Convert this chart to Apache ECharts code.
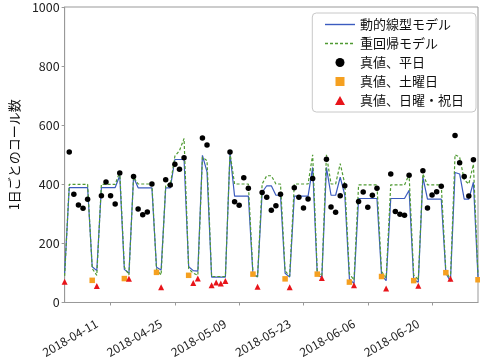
<!DOCTYPE html>
<html>
<head>
<meta charset="utf-8">
<script src="https://cdn.jsdelivr.net/npm/echarts@6/dist/echarts.min.js"></script>
<style>
html,body{margin:0;padding:0;background:#fff;}
#chart{width:480px;height:360px;}
</style>
</head>
<body>
<div id="chart"></div>
<script>
// ---- data ----
var startDate = '2018-04-01';
var dayCount = 91;
var holidays = ['2018-04-29','2018-04-30','2018-05-03','2018-05-04','2018-05-05'];
var xTickLabels = ['2018-04-11','2018-04-25','2018-05-09','2018-05-23','2018-06-06','2018-06-20'];
var yTicks = [0, 200, 400, 600, 800, 1000];

var dlmValues = [100, 389,389,389,389,389, 121,108, 389,389,389,389,430, 112,99, 425,388,388,388,388, 119,110, 388,388,484,484,484, 121,108,106, 498,442, 86,86,86,86, 506,360,360,360,360, 95,86, 373,395,395,363,363, 99,86, 360,360,360,360,457, 93,85, 457,363,363,424,363, 80,64, 352,352,352,352,352, 93,74, 352,352,352,352,380, 77,69, 424,350,350,350,350, 99,72, 440,435,350,350,407, 85];
var regValues = [90, 400,400,400,400,400, 115,92, 400,400,400,400,442, 120,93, 425,401,401,401,401, 112,93, 398,398,495,514,555, 115,99,92, 492,480, 88,88,88,88, 506,401,401,401,401, 100,88, 401,429,429,401,401, 107,90, 401,401,401,401,500, 105,90, 500,401,401,470,401, 97,76, 398,398,398,398,398, 105,83, 398,398,398,398,433, 93,77, 435,398,398,398,398, 105,80, 500,492,415,401,468, 92];
var actualValues = [70, 509,366,330,319,349, 75,56, 361,408,361,333,438, 81,80, 426,316,297,306,401, 102,52, 415,398,468,451,490, 92,66,81, 557,533, 58,68,64,73, 509,341,329,422,387, 96,53, 372,356,312,327,366, 80,52, 388,356,320,350,420, 96,83, 485,323,305,361,395, 69,58, 342,374,322,363,387, 88,47, 435,308,299,295,431, 74,57, 446,320,364,375,393, 101,80, 565,473,426,360,483, 77];

var seriesNames = ['動的線型モデル','重回帰モデル','真値、平日','真値、土曜日','真値、日曜・祝日'];
var yAxisTitle = '1日ごとのコール数';

// ---- build categories ----
function pad(n){return n<10?'0'+n:''+n;}
var dates = [];
var dows = [];
var t0 = Date.parse(startDate + 'T00:00:00Z');
for (var i = 0; i < dayCount; i++) {
  var d = new Date(t0 + i*86400000);
  dates.push(d.getUTCFullYear()+'-'+pad(d.getUTCMonth()+1)+'-'+pad(d.getUTCDate()));
  dows.push(d.getUTCDay());
}
var weekdayPts = [], saturdayPts = [], holidayPts = [];
for (var j = 0; j < dayCount; j++) {
  var p = [j, actualValues[j]];
  if (dows[j] === 0 || holidays.indexOf(dates[j]) >= 0) holidayPts.push(p);
  else if (dows[j] === 6) saturdayPts.push(p);
  else weekdayPts.push(p);
}
function showTick(idx, val){ return xTickLabels.indexOf(dates[idx]) >= 0; }

var FONT = '"Noto Sans CJK JP", "Noto Sans", sans-serif';
var BLUE = '#3b5bbf', GREEN = '#4f9a32', ORANGE = '#f5a020', RED = '#e8141a';
var SQUARE = 'path://M0,0 L10,0 L10,10 L0,10 Z';
var TRI = 'path://M5,0 L10,9 L0,9 Z';
var chart = echarts.init(document.getElementById('chart'), null, {renderer:'canvas'});
chart.setOption({
  animation: false,
  backgroundColor: '#ffffff',
  textStyle: {fontFamily: FONT},
  grid: {left: 52, right: 2, top: 7, bottom: 50, show: true, borderColor: '#999', borderWidth: 1, backgroundColor: 'transparent'},
  legend: {
    orient: 'vertical', right: 4, top: 13,
    backgroundColor: '#fff', borderColor: '#c8c8c8', borderWidth: 1, borderRadius: 4,
    padding: [5, 12, 5, 12], itemGap: 6, itemWidth: 30, itemHeight: 9,
    symbolKeepAspect: true,
    textStyle: {fontSize: 13, color: '#111', fontFamily: FONT},
    data: [
      {name: seriesNames[0], itemStyle: {opacity: 0}, lineStyle: {color: BLUE, width: 1.4}},
      {name: seriesNames[1], itemStyle: {opacity: 0}, lineStyle: {color: GREEN, width: 1.4, type: [3, 2]}},
      {name: seriesNames[2], icon: 'circle'},
      {name: seriesNames[3], icon: SQUARE},
      {name: seriesNames[4], icon: TRI}
    ]
  },
  xAxis: {
    type: 'category', data: dates, boundaryGap: false,
    axisLine: {show: true, lineStyle: {color: '#999'}},
    axisTick: {show: true, interval: showTick, length: 3, lineStyle: {color: '#999'}},
    axisLabel: {interval: showTick, rotate: 30, fontSize: 12, color: '#222', fontFamily: FONT, margin: 12, padding: [0, 16, 0, 0]},
    splitLine: {show: false}
  },
  yAxis: {
    type: 'value', min: 0, max: 1000, interval: 200,
    name: yAxisTitle, nameLocation: 'middle', nameGap: 38, nameRotate: 90,
    nameTextStyle: {fontSize: 13, color: '#111', fontFamily: FONT},
    axisLine: {show: true, lineStyle: {color: '#999'}},
    axisTick: {show: true, length: 3, lineStyle: {color: '#999'}},
    axisLabel: {fontSize: 12.5, color: '#222', margin: 5, fontFamily: FONT, formatter: function(v){return String(v);}},
    splitLine: {show: false}
  },
  series: [
    {name: seriesNames[0], type: 'line', data: dlmValues, symbol: 'none', z: 2,
     lineStyle: {color: BLUE, width: 1.2}, itemStyle: {color: BLUE}},
    {name: seriesNames[1], type: 'line', data: regValues, symbol: 'none', z: 3,
     lineStyle: {color: GREEN, width: 1.2, type: [3, 2]}, itemStyle: {color: GREEN}},
    {name: seriesNames[2], type: 'scatter', data: weekdayPts, symbol: 'circle', symbolSize: 5.5, z: 4,
     itemStyle: {color: '#000', opacity: 1}},
    {name: seriesNames[3], type: 'scatter', data: saturdayPts, symbol: 'rect', symbolSize: 5.5, z: 4,
     itemStyle: {color: ORANGE, opacity: 1}},
    {name: seriesNames[4], type: 'scatter', data: holidayPts, symbol: 'triangle', symbolSize: 6, z: 4,
     itemStyle: {color: RED, opacity: 1}}
  ]
});
</script>
</body>
</html>
